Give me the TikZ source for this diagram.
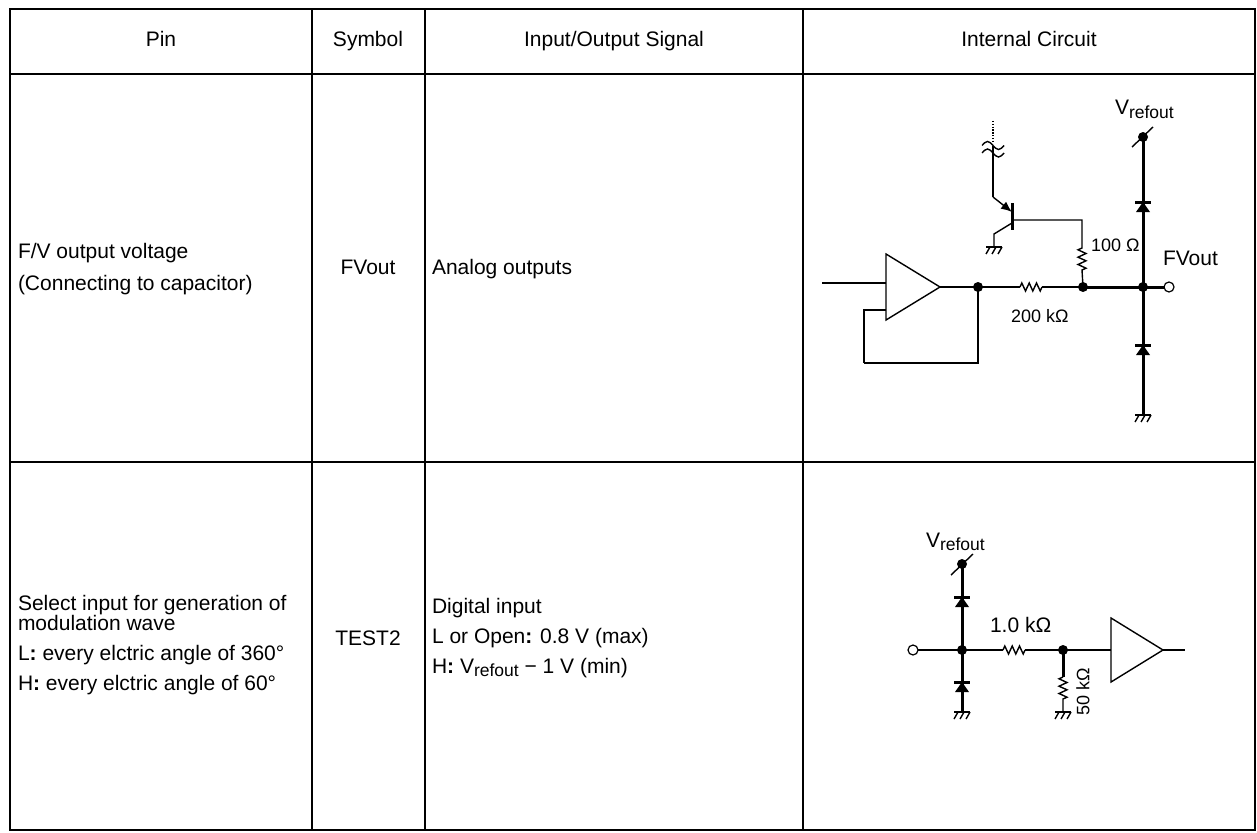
\documentclass[tikz,border=0pt]{standalone}
\usepackage{fontspec}
\setmainfont{Liberation Sans}
\usetikzlibrary{arrows.meta}
\newcommand\bigf{\fontsize{21}{24}\selectfont}
\newcommand\smf{\fontsize{18}{20}\selectfont}
\newcommand\subf{\fontsize{17.5}{19}\selectfont}
\newcommand\Vrefo{V\raisebox{-3pt}{\subf refout}}
\newcommand\zzH{-- ++(1.8,-4) -- ++(3.7,8) -- ++(3.7,-8) -- ++(3.6,8) -- ++(3.7,-8) -- ++(3.7,8) -- ++(1.8,-4)}
\newcommand\zzV{-- ++(-4,1.8) -- ++(8,3.7) -- ++(-8,3.7) -- ++(8,3.6) -- ++(-8,3.7) -- ++(8,3.7) -- ++(-4,1.8)}
\begin{document}
\begin{tikzpicture}[x=1pt,y=-1pt,
  every node/.style={font=\bigf, inner sep=0pt, outer sep=0pt},
  txt/.style={anchor=base west},
  ctr/.style={anchor=base},
  tbl/.style={line width=2.5pt},
  thinl/.style={line width=1.4pt},
  medl/.style={line width=2pt},
  thickl/.style={line width=3pt},
  jdot/.style={circle, fill=black, minimum size=10pt},
  term/.style={circle, draw=black, line width=1.2pt, fill=white, minimum size=10pt},
  gnd/.pic={\draw[thinl] (-8,0) -- (8,0);
            \foreach \i in {0,1,2} \draw[thinl] (-4+6*\i,0) -- (-8+6*\i,7);},
  diode/.pic={\fill (-7,10) -- (7,10) -- (0,0) -- cycle;
              \draw[thickl] (-8,0) -- (8,0);},
]
\useasboundingbox (0,0) rectangle (1257,832);
% ---------------- table ----------------
\draw[tbl] (10,9) rectangle (1255,830);
\draw[tbl] (10,74) -- (1255,74);
\draw[tbl] (10,462) -- (1255,462);
\draw[tbl] (312,9) -- (312,830);
\draw[tbl] (425,9) -- (425,830);
\draw[tbl] (803,9) -- (803,830);
% header
\node[ctr] (hpin) at (161,47) {Pin};
\node[ctr] (hsym) at (368,47) {Symbol};
\node[ctr] (hio) at (614,47) {Input/Output Signal};
\node[ctr] (hic) at (1029,47) {Internal Circuit};
% row 1
\node[txt] (p1a) at (18,258) {F/V output voltage};
\node[txt] (p1b) at (18,290) {(Connecting to capacitor)};
\node[ctr] (s1) at (368,274) {FVout};
\node[txt] (io1) at (432,274) {Analog outputs};
% row 2
\node[txt] (p2a) at (18,610) {Select input for generation of};
\node[txt] (p2b) at (18,630) {modulation wave};
\node[txt] (p2c) at (18,660) {L\textbf{:} every elctric angle of 360°};
\node[txt] (p2d) at (18,690) {H\textbf{:} every elctric angle of 60°};
\node[ctr] (s2) at (368,645) {TEST2};
\node[txt] (io2a) at (432,613) {Digital input};
\node[txt] (io2b) at (432,643) {L or Open\textbf{:} 0.8 V (max)};
\node[txt] (io2c) at (432,673) {H\textbf{:} \Vrefo{} − 1 V (min)};
% ---------------- circuit 1 ----------------
\coordinate (inA) at (822,283);
\coordinate (opL) at (886,283);
\coordinate (opApex) at (940,287);
\coordinate (nA) at (978,287);
\coordinate (rA1) at (1010,287);
\coordinate (rA2) at (1020,287);
\coordinate (rA3) at (1042,287);
\coordinate (rA4) at (1052,287);
\coordinate (nB) at (1083,287);
\coordinate (nC) at (1143,287);
\coordinate (vt1) at (1143,137);
\coordinate (g1) at (1143,415);
\draw[thinl] (886,254) -- (886,320) -- (opApex) -- cycle;
\draw[thinl] (inA) -- (opL);
\draw[thinl] (886,310) -- (864,310) -- (864,363);
\draw[medl] (864,363) -- (978,363) -- (nA);
\draw[thinl] (opApex) -- (nA) -- (rA1);
\draw[medl] (rA1) -- (rA2);
\draw[thinl] (rA2) \zzH;
\draw[medl] (rA3) -- (rA4);
\draw[thinl] (rA4) -- (nB);
\draw[thickl] (nB) -- (nC) -- (1164,287);
\draw[thickl] (vt1) -- (g1);
\pic at (1143,202) {diode};
\pic at (1143,345) {diode};
\pic at (g1) {gnd};
\draw[thinl] (1132,147) -- (1153,127);
\node[jdot] (dV1) at (vt1) {};
\node[jdot] (dA) at (nA) {};
\node[jdot] (dB) at (nB) {};
\node[jdot] (dC) at (nC) {};
\node[term] (t1) at (1169,287) {};
\node[txt] (lv1) at (1115,115) {\Vrefo};
\node[txt] (lfv) at (1163,265) {FVout};
\node[txt, font=\smf] (l100) at (1091,251.5) {100 Ω};
\node[txt, font=\smf] (l200) at (1011,322) {200 kΩ};
% transistor
\coordinate (qE) at (993,197);
\coordinate (qB) at (1012,220);
\draw[thinl, line cap=butt, dash pattern=on 1.4pt off 1.4pt] (993,121) -- (993,141);
\draw[thinl] (982,145.5) sin (987.5,141.5) cos (993,145.5) sin (998.5,149.5) cos (1004,145.5);
\draw[thinl] (982,153) sin (987.5,149) cos (993,153) sin (998.5,157) cos (1004,153);
\draw[thinl] (993,146) -- (qE);
\draw[thinl, -{Latex[length=11pt,width=9pt]}] (qE) -- (1012,212);
\draw[thickl] (1012,203) -- (1012,230);
\draw[thinl] (1012,223) -- (994,234) -- (994,247);
\pic at (994,247) {gnd};
\draw[thinl] (qB) -- (1082,220) -- (1082,248) \zzV -- (nB);
% ---------------- circuit 2 ----------------
\coordinate (vt2) at (962,564);
\coordinate (nD) at (962,650);
\coordinate (g2) at (962,712);
\coordinate (rB1) at (993,650);
\coordinate (rB2) at (1003,650);
\coordinate (rB3) at (1025,650);
\coordinate (rB4) at (1035,650);
\coordinate (nE) at (1063,650);
\coordinate (bufL) at (1111,650);
\coordinate (bufApex) at (1163,650);
\coordinate (outB) at (1185,650);
\coordinate (g3) at (1063,712);
\draw[thickl] (vt2) -- (g2);
\pic at (962,597) {diode};
\pic at (962,682) {diode};
\pic at (g2) {gnd};
\draw[thinl] (951,575) -- (973,554);
\draw[thinl] (918,650) -- (nD) -- (rB1);
\draw[medl] (rB1) -- (rB2);
\draw[thinl] (rB2) \zzH;
\draw[medl] (rB3) -- (rB4);
\draw[thinl] (rB4) -- (nE) -- (bufL);
\draw[thinl] (1111,618) -- (1111,682) -- (bufApex) -- cycle;
\draw[thinl] (bufApex) -- (outB);
\draw[thickl] (nE) -- (1063,677);
\draw[thinl] (1063,677) \zzV -- (g3);
\pic at (g3) {gnd};
\node[jdot] (dV2) at (vt2) {};
\node[jdot] (dD) at (nD) {};
\node[jdot] (dE) at (nE) {};
\node[term] (t2) at (913,650) {};
\node[txt] (lv2) at (926,547) {\Vrefo};
\node[txt] (l1k) at (990,632) {1.0 kΩ};
\node[font=\smf, rotate=90] (l50) at (1083,692) {50 kΩ};
\end{tikzpicture}
\end{document}
